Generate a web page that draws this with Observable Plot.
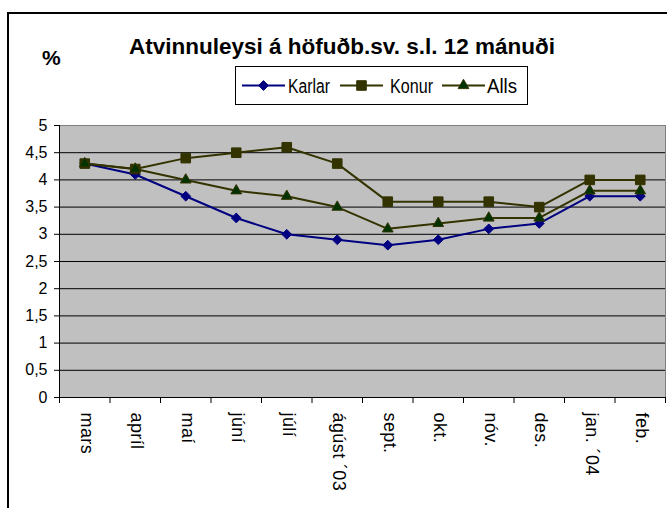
<!DOCTYPE html>
<html>
<head>
<meta charset="utf-8">
<script src="https://cdn.jsdelivr.net/npm/d3@7"></script>
<script src="https://cdn.jsdelivr.net/npm/@observablehq/plot@0.6"></script>
<style>
  html, body { margin: 0; padding: 0; background: #fff; }
  #wrap { position: relative; width: 667px; height: 508px; overflow: hidden; font-family: "Liberation Sans", Arial, sans-serif; }
  #wrap > svg { position: absolute; left: 0; top: 0; }
  #overlay { pointer-events: none; }
</style>
</head>
<body>
<div id="wrap"></div>
<script>
const months = ["mars", "apríl", "maí", "júní", "júlí", "ágúst ´03", "sept.", "okt.", "nóv.", "des.", "jan. ´04", "feb."];
const karlar = [4.3, 4.1, 3.7, 3.3, 3.0, 2.9, 2.8, 2.9, 3.1, 3.2, 3.7, 3.7];
const konur  = [4.3, 4.2, 4.4, 4.5, 4.6, 4.3, 3.6, 3.6, 3.6, 3.5, 4.0, 4.0];
const alls   = [4.3, 4.2, 4.0, 3.8, 3.7, 3.5, 3.1, 3.2, 3.3, 3.3, 3.8, 3.8];
const yTicks = [0, 0.5, 1, 1.5, 2, 2.5, 3, 3.5, 4, 4.5, 5];
const seriesNames = ["Karlar", "Konur", "Alls"];
const title = "Atvinnuleysi á höfuðb.sv. s.l. 12 mánuði";

const styles = {
  Karlar: {stroke: "#000080", fill: "#000080", mstroke: "#000080", symbol: "diamond2", r: 4.4},
  Konur:  {stroke: "#333300", fill: "#333300", mstroke: "#333300", symbol: "square", r: 5.4},
  Alls:   {stroke: "#333300", fill: "#003300", mstroke: "#333300", symbol: "triangle", r: 4.0}
};

const table = (vals) => vals.map((v, i) => ({x: i + 0.5, y: v}));
const data = {Karlar: table(karlar), Konur: table(konur), Alls: table(alls)};

const marks = [
  Plot.frame({fill: "#c0c0c0", stroke: "#808080"}),
  Plot.gridY(yTicks.slice(0, -1), {stroke: "#000", strokeOpacity: 1}),
  Plot.ruleY([0], {stroke: "#000"}),
  Plot.ruleX([0], {stroke: "#000"}),
  Plot.axisY(yTicks, {label: null, tickSize: 5, tickPadding: 7, fontSize: 16, tickFormat: d => String(d).replace(".", ","), stroke: "#000"}),
  Plot.axisX(d3.range(13), {label: null, tickSize: 6, tickFormat: () => "", stroke: "#000"}),
  Plot.text(months, {x: (d, i) => i + 0.5, text: d => d, frameAnchor: "bottom", rotate: 90, textAnchor: "start", dy: 15, dx: -4, fontSize: 18, fill: "#000", style: "letter-spacing:0.4px"})
];
for (const name of seriesNames) {
  const s = styles[name];
  marks.push(Plot.line(data[name], {x: "x", y: "y", stroke: s.stroke, strokeWidth: 2}));
}
for (const name of seriesNames) {
  const s = styles[name];
  marks.push(Plot.dot(data[name], {x: "x", y: "y", symbol: () => s.symbol, r: s.r, fill: s.fill, stroke: s.mstroke, strokeWidth: 1}));
}

const chart = Plot.plot({
  width: 667,
  height: 508,
  marginLeft: 59,
  marginRight: 2,
  marginTop: 125,
  marginBottom: 111,
  style: {fontFamily: "Liberation Sans, Arial, sans-serif", color: "#000", background: "transparent", overflow: "visible"},
  x: {type: "linear", domain: [0, 12], axis: null},
  y: {type: "linear", domain: [0, 5], axis: null},
  symbol: {type: "identity"},
  marks
});
document.getElementById("wrap").appendChild(chart);
chart.querySelectorAll("text").forEach(t => {
  if (t.closest("[aria-label='text']")) t.style.letterSpacing = "0.4px";
});

// Overlay: outer frame, title, % label and legend
const ov = d3.select("#wrap").append("svg").attr("id", "overlay").attr("width", 667).attr("height", 508)
  .style("font-family", "Liberation Sans, Arial, sans-serif");
ov.append("rect").attr("x", 8).attr("y", 13).attr("width", 800).attr("height", 800)
  .attr("fill", "none").attr("stroke", "#000").attr("stroke-width", 2);
ov.append("text").attr("x", 342).attr("y", 54).attr("text-anchor", "middle")
  .attr("font-size", 22).attr("font-weight", "bold").attr("textLength", 426).attr("lengthAdjust", "spacingAndGlyphs")
  .text(title);
ov.append("text").attr("x", 42).attr("y", 65).attr("font-size", 21).attr("font-weight", "bold").text("%");

const lg = ov.append("g");
lg.append("rect").attr("x", 235.5).attr("y", 66.5).attr("width", 292).attr("height", 38)
  .attr("fill", "#fff").attr("stroke", "#000").attr("stroke-width", 1);
const entries = [
  {name: "Karlar", x0: 242, tx: 288, tw: 42},
  {name: "Konur", x0: 340, tx: 390, tw: 43},
  {name: "Alls", x0: 442, tx: 487, tw: 30}
];
const symMap = {diamond2: d3.symbolDiamond2, square: d3.symbolSquare, triangle: d3.symbolTriangle};
for (const e of entries) {
  const s = styles[e.name];
  const cy = 85.5;
  lg.append("line").attr("x1", e.x0).attr("x2", e.x0 + 43).attr("y1", cy).attr("y2", cy)
    .attr("stroke", s.stroke).attr("stroke-width", 2);
  lg.append("path").attr("transform", `translate(${e.x0 + 21.5},${cy})`)
    .attr("d", d3.symbol(symMap[s.symbol], Math.PI * s.r * s.r)())
    .attr("fill", s.fill).attr("stroke", s.mstroke);
  lg.append("text").attr("x", e.tx).attr("y", cy + 7).attr("font-size", 20)
    .attr("textLength", e.tw).attr("lengthAdjust", "spacingAndGlyphs").text(e.name);
}
</script>
</body>
</html>
